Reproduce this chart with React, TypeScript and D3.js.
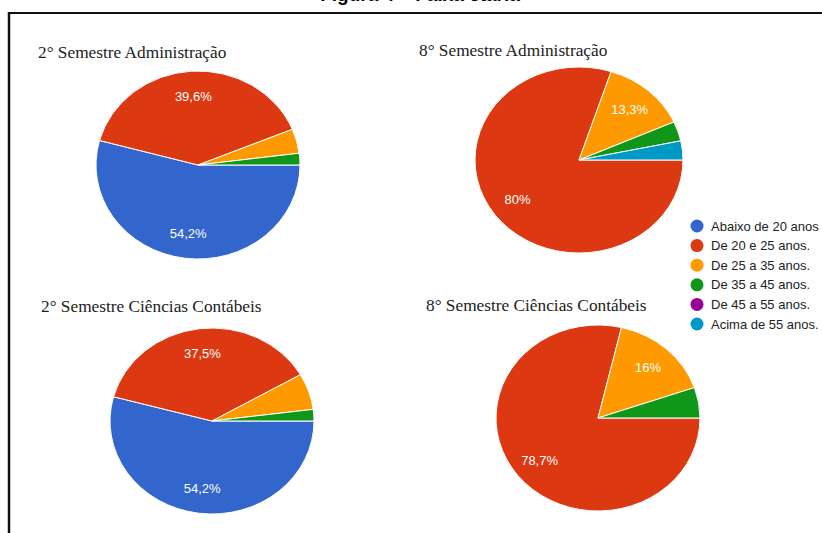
import React from "react";
import * as d3 from "d3";

const W = 822;
const H = 533;

const ageGroups = [
  "Abaixo de 20 anos",
  "De 20 e 25 anos.",
  "De 25 a 35 anos.",
  "De 35 a 45 anos.",
  "De 45 a 55 anos.",
  "Acima de 55 anos.",
];
const groupColors = ["#3366cc", "#dc3912", "#ff9900", "#109618", "#990099", "#0099c6"];

const chartTitles = [
  "2° Semestre Administração",
  "8° Semestre Administração",
  "2° Semestre Ciências Contábeis",
  "8° Semestre Ciências Contábeis",
];
const adm2 = [54.2, 39.6, 4.2, 2.0, 0, 0];
const adm8 = [0, 80, 13.3, 3.4, 0, 3.3];
const cc2 = [54.2, 37.5, 6.3, 2.0, 0, 0];
const cc8 = [0, 78.7, 16, 5.3, 0, 0];
const seriesList = [adm2, adm8, cc2, cc8];

// placement of each pie: centre, radii and title anchor
const panels = [
  { cx: 198, cy: 165, rx: 102, ry: 94, tx: 38, ty: 58 },
  { cx: 579, cy: 160, rx: 104, ry: 93, tx: 419, ty: 56 },
  { cx: 212, cy: 421, rx: 102, ry: 93, tx: 41, ty: 312 },
  { cx: 598, cy: 418, rx: 102, ry: 93, tx: 426, ty: 311 },
];

const fmt = (v: number) => `${v}`.replace(".", ",") + "%";

function Pie({ values, panel, title }: { values: number[]; panel: typeof panels[0]; title: string }) {
  const pie = d3
    .pie<number>()
    .sort(null)
    .value((d) => d)
    .startAngle(Math.PI / 2)
    .endAngle(Math.PI / 2 + 2 * Math.PI);
  const arcs = pie(values);
  const arc = d3.arc<d3.PieArcDatum<number>>().innerRadius(0).outerRadius(panel.ry);
  const sx = panel.rx / panel.ry;
  return (
    <g>
      <text
        x={panel.tx}
        y={panel.ty}
        fontFamily="'Liberation Serif', 'Times New Roman', serif"
        fontSize={17.3}
        fill="#222"
      >
        {title}
      </text>
      <g transform={`translate(${panel.cx},${panel.cy}) scale(${sx},1)`}>
        {arcs.map((a, i) =>
          a.value > 0 ? (
            <path
              key={i}
              d={arc(a) || ""}
              fill={groupColors[i]}
              stroke="#fff"
              strokeWidth={1}
              vectorEffect="non-scaling-stroke"
            />
          ) : null
        )}
      </g>
      {arcs.map((a, i) => {
        if (a.value < 10) return null;
        const mid = (a.startAngle + a.endAngle) / 2;
        const k = 0.73;
        const x = panel.cx + Math.sin(mid) * panel.rx * k;
        const y = panel.cy - Math.cos(mid) * panel.ry * k;
        return (
          <text
            key={"l" + i}
            x={x}
            y={y}
            dy="0.35em"
            textAnchor="middle"
            fontFamily="Arial, 'Liberation Sans', sans-serif"
            fontSize={13}
            fill="#fff"
          >
            {fmt(a.value)}
          </text>
        );
      })}
    </g>
  );
}

export default function App() {
  const legendY = d3.scalePoint<string>().domain(ageGroups).range([226, 324]);
  return (
    <div style={{ position: "fixed", left: 0, top: 0 }}>
      <svg width={W} height={H} style={{ display: "block", background: "#fff" }}>
        <rect x={0} y={0} width={W} height={H} fill="#fff" />
        <text
          x={420}
          y={1}
          textAnchor="middle"
          fontFamily="Arial, 'Liberation Sans', sans-serif"
          fontWeight="bold"
          fontSize={19}
          fill="#000"
        >
          Figura 4 – Faixa etária
        </text>
        <line x1={8} x2={W} y1={13} y2={13} stroke="#111" strokeWidth={2} />
        <line x1={9} x2={9} y1={12} y2={H} stroke="#111" strokeWidth={2.5} />
        {seriesList.map((s, i) => (
          <Pie key={i} values={s} panel={panels[i]} title={chartTitles[i]} />
        ))}
        {ageGroups.map((g, i) => (
          <g key={g}>
            <circle cx={697} cy={legendY(g)!} r={6.5} fill={groupColors[i]} />
            <text
              x={711}
              y={legendY(g)!}
              dy="0.35em"
              fontFamily="Arial, 'Liberation Sans', sans-serif"
              fontSize={13}
              fill="#222"
            >
              {g}
            </text>
          </g>
        ))}
      </svg>
    </div>
  );
}
